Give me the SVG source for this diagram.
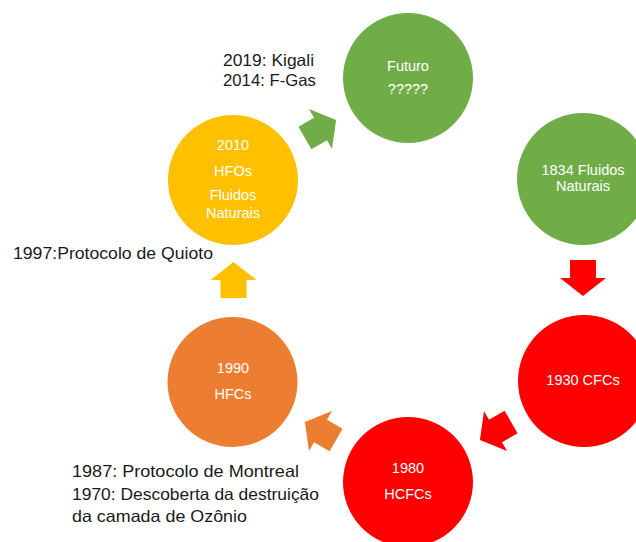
<svg xmlns="http://www.w3.org/2000/svg" width="636" height="542" viewBox="0 0 636 542">
  <defs>
    <polygon id="arrow" points="-18,-13 0,-13 0,-23 18,0 0,23 0,13 -18,13"/>
  </defs>
  <style>
    .node-text { font-family: "Liberation Sans", Arial, sans-serif; font-size: 14.5px; fill: #ffffff; text-anchor: middle; }
    .note { font-family: "Liberation Sans", Arial, sans-serif; font-size: 16.5px; fill: #1a1a1a; }
    .green { fill: #70AD47; }
    .red { fill: #FF0000; }
    .orange { fill: #ED7D31; }
    .gold { fill: #FFC000; }
  </style>
  <rect width="636" height="542" fill="#ffffff"/>

  <g id="connectors">
    <use href="#arrow" class="red" transform="translate(583,278) rotate(90)"/>
    <use href="#arrow" class="red" transform="translate(495.5,431) rotate(150)"/>
    <use href="#arrow" class="orange" transform="translate(320.5,431) rotate(210)"/>
    <use href="#arrow" class="gold" transform="translate(233.5,280) rotate(270)"/>
    <use href="#arrow" class="green" transform="translate(320.5,129) rotate(330)"/>
  </g>

  <g id="node-futuro">
    <circle class="green" cx="408" cy="78" r="65"/>
    <text class="node-text" x="408" y="71">Futuro</text>
    <text class="node-text" x="408" y="94">?????</text>
  </g>
  <g id="node-1834">
    <circle class="green" cx="583" cy="179" r="66"/>
    <text class="node-text" x="583" y="175">1834 Fluidos</text>
    <text class="node-text" x="583" y="191">Naturais</text>
  </g>
  <g id="node-1930">
    <circle class="red" cx="584" cy="381" r="66"/>
    <text class="node-text" x="583" y="385">1930 CFCs</text>
  </g>
  <g id="node-1980">
    <circle class="red" cx="408" cy="482" r="65"/>
    <text class="node-text" x="408" y="473">1980</text>
    <text class="node-text" x="408" y="499">HCFCs</text>
  </g>
  <g id="node-1990">
    <circle class="orange" cx="232.5" cy="382" r="65"/>
    <text class="node-text" x="233" y="373">1990</text>
    <text class="node-text" x="233" y="399">HFCs</text>
  </g>
  <g id="node-2010">
    <circle class="gold" cx="233" cy="180" r="65"/>
    <text class="node-text" x="233" y="150">2010</text>
    <text class="node-text" x="233" y="176">HFOs</text>
    <text class="node-text" x="233" y="200">Fluidos</text>
    <text class="node-text" x="233" y="218">Naturais</text>
  </g>

  <g id="notes">
    <text class="note" x="223" y="66" textLength="91" lengthAdjust="spacingAndGlyphs">2019: Kigali</text>
    <text class="note" x="223" y="86" textLength="93" lengthAdjust="spacingAndGlyphs">2014: F-Gas</text>
    <text class="note" x="13" y="259" textLength="200" lengthAdjust="spacingAndGlyphs">1997:Protocolo de Quioto</text>
    <text class="note" x="72" y="477" textLength="227" lengthAdjust="spacingAndGlyphs">1987: Protocolo de Montreal</text>
    <text class="note" x="72" y="500" textLength="247" lengthAdjust="spacingAndGlyphs">1970: Descoberta da destruição</text>
    <text class="note" x="72" y="522" textLength="175" lengthAdjust="spacingAndGlyphs">da camada de Ozônio</text>
  </g>
</svg>
